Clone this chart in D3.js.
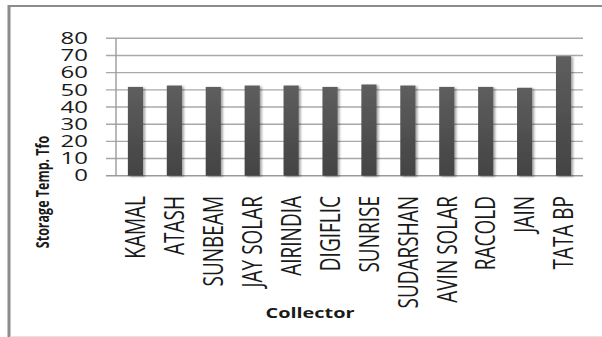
<!DOCTYPE html>
<html>
<head>
<meta charset="utf-8">
<script src="https://cdn.jsdelivr.net/npm/d3@7"></script>
<style>
  html, body { margin: 0; padding: 0; background: #fff; }
  #graph { width: 602px; height: 337px; }
  text { font-family: "Open Sans", sans-serif; fill: #1a1a1a; }
</style>
</head>
<body>
<div id="graph"></div>
<script>
var collectors = ["KAMAL", "ATASH", "SUNBEAM", "JAY SOLAR", "AIRINDIA", "DIGIFLIC",
  "SUNRISE", "SUDARSHAN", "AVIN SOLAR", "RACOLD", "JAIN", "TATA BP"];
var storageTemp = [51.7, 52.5, 51.7, 52.5, 52.5, 51.7, 53.1, 52.5, 51.7, 51.7, 51.2, 69.6];
var yTicks = [0, 10, 20, 30, 40, 50, 60, 70, 80];

var width = 602, height = 337;
var margin = { top: 38.3, left: 116, bottom: 161.3, right: 19 };
var chartWidth = width - margin.left - margin.right;
var chartHeight = height - margin.top - margin.bottom;
var stretch = 1.42;

var svg = d3.select("#graph").append("svg")
  .attr("width", width).attr("height", height);

var defs = svg.append("defs");
var grad = defs.append("linearGradient").attr("id", "barGrad")
  .attr("x1", 0).attr("y1", 0).attr("x2", 0).attr("y2", 1);
grad.append("stop").attr("offset", "0%").attr("stop-color", "#5e5e5e");
grad.append("stop").attr("offset", "100%").attr("stop-color", "#434343");
var shadow = defs.append("filter").attr("id", "shadow")
  .attr("x", "-30%").attr("y", "-10%").attr("width", "170%").attr("height", "130%");
shadow.append("feDropShadow").attr("dx", 2).attr("dy", 1).attr("stdDeviation", 1.3)
  .attr("flood-color", "#000").attr("flood-opacity", 0.35);

// outer frame
svg.append("line").attr("x1", 9).attr("x2", 9).attr("y1", 5).attr("y2", 337)
  .attr("stroke", "#8c8c8c").attr("stroke-width", 3);
svg.append("line").attr("x1", 8).attr("x2", 602).attr("y1", 6).attr("y2", 6)
  .attr("stroke", "#8c8c8c").attr("stroke-width", 2.2);
svg.append("line").attr("x1", 10).attr("x2", 602).attr("y1", 336.5).attr("y2", 336.5)
  .attr("stroke", "#e4e4e4").attr("stroke-width", 1);

var xScale = d3.scaleBand().domain(collectors).range([0, chartWidth])
  .paddingInner(0.61).paddingOuter(0.305);
var yScale = d3.scaleLinear().domain([0, 80]).range([chartHeight, 0]);

var chart = svg.append("g")
  .attr("transform", "translate(" + [margin.left, margin.top] + ")");

// gridlines with tick marks sticking left
chart.append("g").selectAll("line").data(yTicks).enter().append("line")
  .attr("x1", -10).attr("x2", chartWidth)
  .attr("y1", function(d) { return yScale(d); })
  .attr("y2", function(d) { return yScale(d); })
  .attr("stroke", function(d) { return d === 0 ? "#9a9a9a" : "#a8a8a8"; })
  .attr("stroke-width", 1.4);

chart.append("line").attr("x1", 0).attr("x2", 0)
  .attr("y1", 0).attr("y2", chartHeight)
  .attr("stroke", "#9a9a9a").attr("stroke-width", 1.4);

// y tick labels
chart.append("g").selectAll("text").data(yTicks).enter().append("text")
  .attr("transform", function(d) {
    return "translate(" + [-28, yScale(d)] + ") scale(1.5,1)";
  })
  .attr("text-anchor", "end").attr("dy", "0.36em")
  .style("font-size", "16px")
  .text(function(d) { return d; });

// bars
chart.append("g").selectAll("rect").data(collectors).enter().append("rect")
  .attr("x", function(d) { return xScale(d); })
  .attr("width", xScale.bandwidth())
  .attr("y", function(d, i) { return yScale(storageTemp[i]); })
  .attr("height", function(d, i) { return chartHeight - yScale(storageTemp[i]); })
  .attr("fill", "url(#barGrad)")
  .attr("filter", "url(#shadow)");

// x labels, rotated
chart.append("g").selectAll("text").data(collectors).enter().append("text")
  .attr("transform", function(d) {
    return "translate(" + [xScale(d) + xScale.bandwidth() / 2, 196 - margin.top] +
      ") scale(" + stretch + ",1) rotate(-90)";
  })
  .attr("text-anchor", "end").attr("dy", "0.36em")
  .style("font-size", "19px")
  .text(function(d) { return d; });

// axis titles
svg.append("text")
  .attr("transform", "translate(43,192) scale(" + stretch + ",1) rotate(-90)")
  .attr("text-anchor", "middle").attr("dy", "0.35em")
  .style("font-size", "12.5px").style("font-weight", "bold")
  .text("Storage Temp. Tfo");

svg.append("text")
  .attr("transform", "translate(310,318) scale(" + stretch + ",1)")
  .attr("text-anchor", "middle")
  .style("font-size", "14px").style("font-weight", "bold")
  .text("Collector");
</script>
</body>
</html>
